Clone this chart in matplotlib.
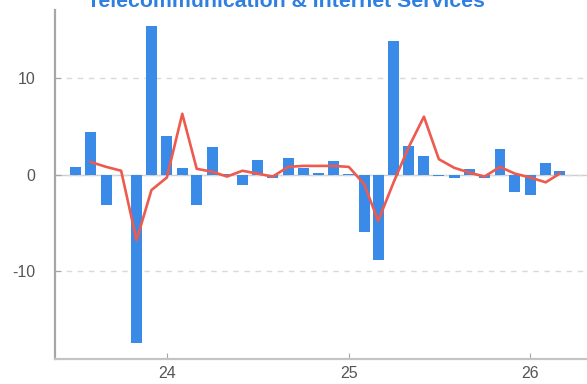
import matplotlib
matplotlib.use("Agg")
import matplotlib.pyplot as plt
import matplotlib.dates as mdates
import pandas as pd

# Monthly change (bars) and its smoothed trend (line)
months = pd.date_range("2023-07-01", "2026-03-01", freq="MS")
monthly_change = [0.8, 4.4, -3.1, 0.0, -17.4, 15.4,
                  4.0, 0.7, -3.1, 2.9, 0.1, -1.1, 1.5, -0.4, 1.7, 0.7, 0.2, 1.4,
                  0.1, -5.9, -8.8, 13.8, 3.0, 1.9, -0.1, -0.4, 0.6, -0.4, 2.7, -1.8,
                  -2.1, 1.2, 0.4]
trend_months = months[1:]
trend = [1.3, 0.8, 0.4, -6.8, -1.6,
         -0.3, 6.3, 0.6, 0.3, -0.2, 0.4, 0.1, -0.2, 0.8, 0.9, 0.9, 0.9,
         0.8, -1.0, -4.8, -0.8, 2.8, 6.0, 1.6, 0.7, 0.2, -0.2, 0.8, 0.1,
         -0.3, -0.8, 0.1]
year_ticks = pd.to_datetime(["2024-01-01", "2025-01-01", "2026-01-01"])
title = "Telecommunication & Internet Services"

plt.rcParams["font.family"] = ["Liberation Sans", "DejaVu Sans"]

fig = plt.figure(figsize=(5.87, 3.84), dpi=100)
ax = fig.add_axes([55 / 587, 25 / 384, 532 / 587, 349 / 384])

ax.bar(months, monthly_change, width=22, color="#3A8AE8", zorder=3)
ax.plot(trend_months, trend, color="#EE5A4E", lw=1.9, zorder=4,
        solid_joinstyle="round")

ax.set_ylim(-19.1, 17.05)
ax.set_xlim(pd.Timestamp("2023-05-21"), pd.Timestamp("2026-04-25"))
ax.set_yticks([-10, 0, 10])
ax.set_yticklabels(["-10", "0", "10"])
ax.set_xticks(year_ticks)
ax.xaxis.set_major_formatter(mdates.DateFormatter("%y"))

ax.yaxis.grid(True, color="#d9d9d9", ls=(0, (4, 4)), lw=1.0, zorder=0)
ax.axhline(0, color="#cccccc", lw=1.0, zorder=1)

for side in ("top", "right"):
    ax.spines[side].set_visible(False)
ax.spines["left"].set_color("#a6a6a6")
ax.spines["left"].set_linewidth(1.6)
ax.spines["bottom"].set_color("#c4c4c4")
ax.spines["bottom"].set_linewidth(1.6)

ax.tick_params(axis="y", direction="in", length=4, color="#a6a6a6",
               labelsize=11.5, labelcolor="#555555", pad=14)
ax.tick_params(axis="x", direction="in", length=4, color="#a6a6a6",
               labelsize=11.5, labelcolor="#555555", pad=5)

fig.text(286 / 587, 1 - 7 / 384, title, ha="center", va="baseline",
         fontsize=15.3, fontweight="bold", color="#2F7FE0")

fig.savefig("out.png", dpi=100)
